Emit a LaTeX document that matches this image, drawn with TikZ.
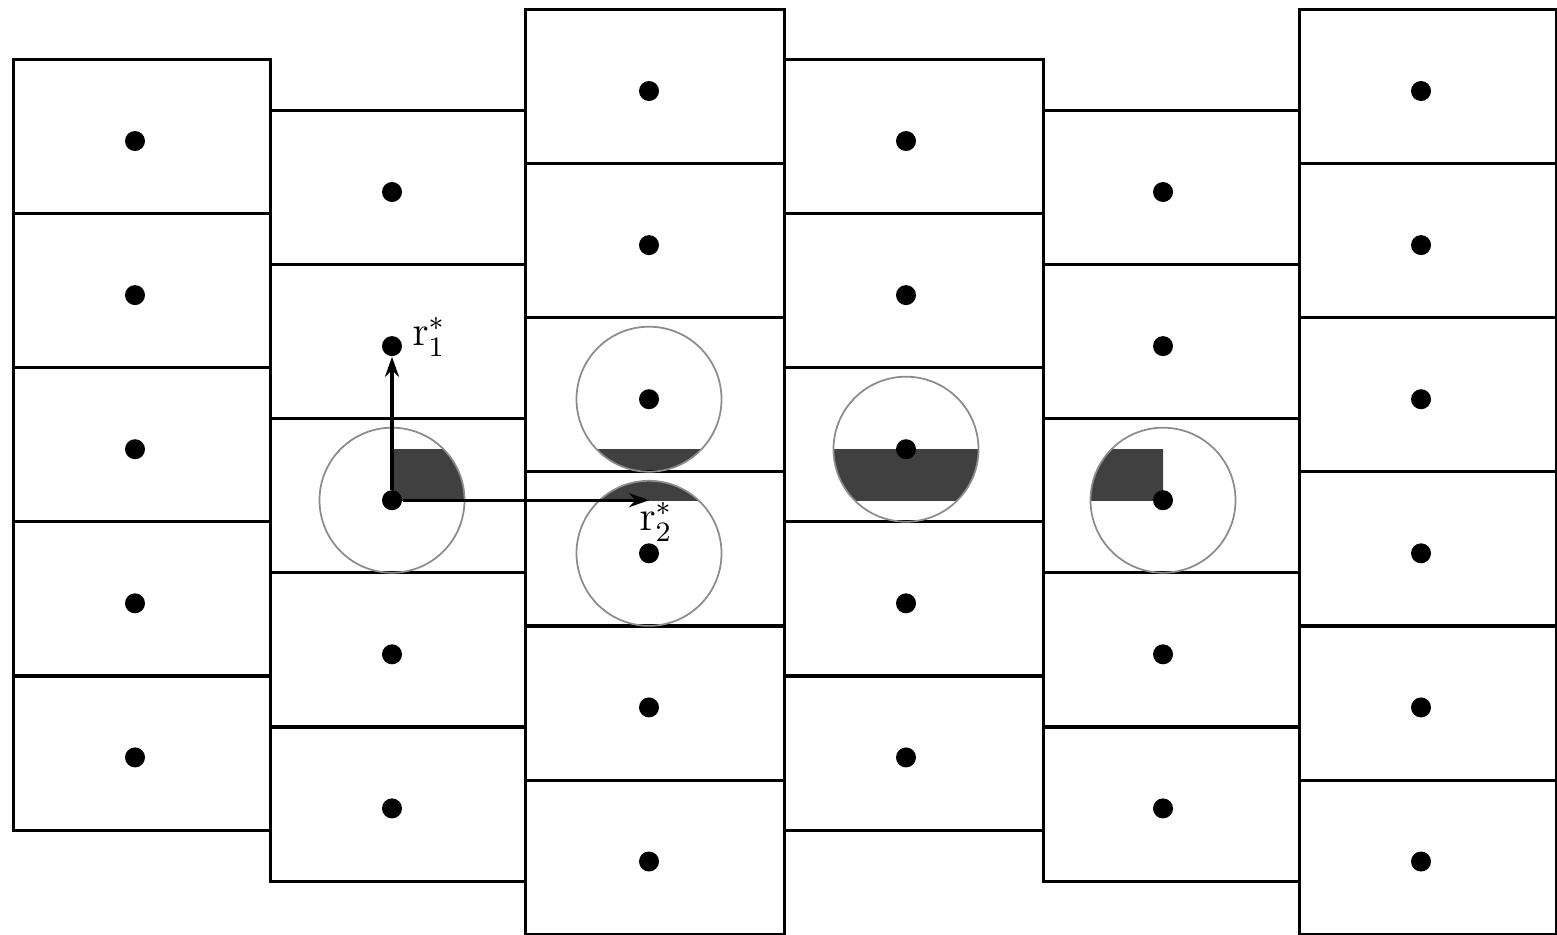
\documentclass[tikz,border=0pt]{standalone}
\usetikzlibrary{arrows.meta,backgrounds}

\begin{document}
\begin{tikzpicture}[>={Stealth[length=2mm,width=1.4mm]}]

  % Styles
  \tikzset{
    cell/.style={draw, line width=0.9pt, minimum height=1.541cm, inner sep=0pt, anchor=north west},
    point/.style={circle, fill=black, inner sep=0pt, minimum size=0.2cm},
    reach/.style={draw=black!45, line width=0.5pt},
    overlap/.style={fill=black!75},
    vec/.style={->, line width=0.9pt}
  }

  \useasboundingbox (0,0) rectangle (15.57,9.34);

  % --- Cells and sites: column / left edge / width / site x / top edge / number of cells ---
  \foreach \c/\x/\w/\s/\top/\n in {0/0.12/2.57/1.35/8.76/5, 1/2.69/2.55/3.92/8.25/5, 2/5.24/2.59/6.49/9.26/6,
                                   3/7.83/2.59/9.06/8.76/5, 4/10.42/2.56/11.63/8.25/5, 5/12.98/2.57/14.21/9.26/6} {
    \foreach \r in {1,...,\n} {
      \node[cell, minimum width=\w cm] (cell-\c-\r) at (\x, {\top-1.541*(\r-1)}) {};
      \node[point] (p-\c-\r) at (\s, {\top-1.541*(\r-1)-0.83}) {};
    }
  }

  % --- Shaded overlap with the band ---
  \begin{scope}[on background layer]
    \begin{scope}
      \clip (3.92,4.338) rectangle (4.8,4.85);
      \fill[overlap] (p-1-3) circle (0.725);
    \end{scope}
    \begin{scope}
      \clip (5.6,4.338) rectangle (7.4,4.85);
      \fill[overlap] (p-2-3) circle (0.725);
      \fill[overlap] (p-2-4) circle (0.725);
    \end{scope}
    \begin{scope}
      \clip (8.2,4.338) rectangle (10.0,4.85);
      \fill[overlap] (p-3-3) circle (0.725);
    \end{scope}
    \begin{scope}
      \clip (10.8,4.338) rectangle (11.63,4.85);
      \fill[overlap] (p-4-3) circle (0.725);
    \end{scope}
  \end{scope}

  % --- Ranges ---
  \draw[reach] (p-1-3) circle (0.725);
  \draw[reach] (p-2-3) circle (0.725);
  \draw[reach] (p-2-4) circle (0.725);
  \draw[reach] (p-3-3) circle (0.725);
  \draw[reach] (p-4-3) circle (0.725);

  % --- Vectors ---
  \coordinate (r2) at (p-1-3 -| p-2-3);
  \draw[vec] (p-1-3) -- (p-1-2);
  \draw[vec] (p-1-3) -- (r2);
  \node[font=\large] (lab1) at (4.29,5.97) {$\mathrm{r}_1^*$};
  \node[font=\large] (lab2) at (6.56,4.12) {$\mathrm{r}_2^*$};

\end{tikzpicture}
\end{document}
